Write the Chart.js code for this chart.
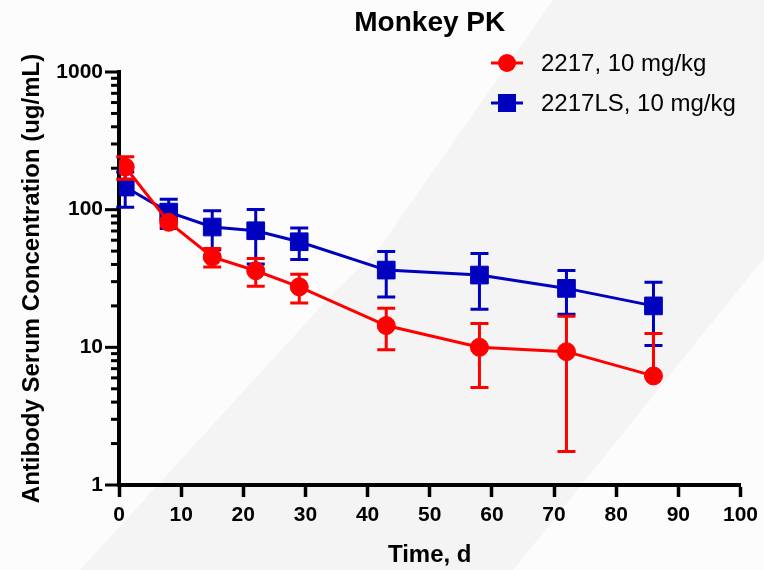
<!DOCTYPE html>
<html>
<head>
<meta charset="utf-8">
<title>Monkey PK</title>
<script src="https://cdn.jsdelivr.net/npm/chart.js@4.4.1/dist/chart.umd.min.js"></script>
<style>
	html, body { margin: 0; padding: 0; background: #fcfcfc; }
	#wrap { width: 764px; height: 570px; }
</style>
</head>
<body>
<div id="wrap"><canvas id="grafPK"></canvas></div>
<script>
/*=============== DATOS ===============*/
const timeDays = [1, 8, 15, 22, 29, 43, 58, 72, 86];
const mean2217 = [204, 81, 45.3, 36, 27.5, 14.4, 10.0, 9.3, 6.2];
const sd2217 = [38, 5, 7, 8.2, 6.5, 4.8, 4.9, 7.55, 6.4];
const mean2217LS = [146, 96, 74.8, 70.3, 58.5, 36.4, 33.5, 26.8, 20.0];
const sd2217LS = [42, 23, 23.6, 30, 15, 13.2, 14.6, 9.4, 9.7];
const yMajorTicks = [1, 10, 100, 1000];
const seriesLabels = ['2217, 10 mg/kg', '2217LS, 10 mg/kg'];

const FONT = "'Liberation Sans', Arial, sans-serif";
const RED = '#ff0000';
const BLUE = '#0000bf';

// ticks menores del eje log (2..9 de cada decada)
const yAllTicks = [];
yMajorTicks.forEach(m => {
	if (m === 1000) { yAllTicks.push(m); return; }
	for (let k = 1; k <= 9; k++) yAllTicks.push(m * k);
});

const toPoints = (xs, ys) => xs.map((t, i) => ({x: t, y: ys[i]}));
const errores = [sd2217, sd2217LS];

/*=============== PLUGINS ===============*/
const fondo = {
	id: 'fondo',
	beforeDraw(chart){
		const ctx = chart.ctx;
		ctx.save();
		ctx.fillStyle = '#fcfcfc';
		ctx.fillRect(0, 0, chart.width, chart.height);
		ctx.fillStyle = '#f4f4f4';
		ctx.beginPath();
		ctx.moveTo(553, 0);
		ctx.lineTo(764, 0);
		ctx.lineTo(764, 258);
		ctx.lineTo(513, 570);
		ctx.lineTo(80, 570);
		ctx.lineTo(327, 300);
		ctx.lineTo(380, 247);
		ctx.closePath();
		ctx.fill();
		ctx.restore();
	}
};

const barrasError = {
	id: 'barrasError',
	beforeDatasetDraw(chart, args){
		const ds = chart.data.datasets[args.index];
		const sd = errores[args.index];
		const sx = chart.scales.x, sy = chart.scales.y;
		const ctx = chart.ctx;
		ctx.save();
		ctx.strokeStyle = ds.borderColor;
		ctx.lineWidth = 3;
		ds.data.forEach((p, i) => {
			const px = sx.getPixelForValue(p.x);
			const py = sy.getPixelForValue(p.y);
			const top = sy.getPixelForValue(p.y + sd[i]);
			ctx.beginPath();
			ctx.moveTo(px, py); ctx.lineTo(px, top);
			ctx.moveTo(px - 9, top); ctx.lineTo(px + 9, top);
			if (p.y - sd[i] > 0) {
				const bot = sy.getPixelForValue(p.y - sd[i]);
				ctx.moveTo(px, py); ctx.lineTo(px, bot);
				ctx.moveTo(px - 9, bot); ctx.lineTo(px + 9, bot);
			}
			ctx.stroke();
		});
		ctx.restore();
	}
};

const ticksLog = {
	id: 'ticksLog',
	afterDraw(chart){
		const sy = chart.scales.y;
		const x0 = chart.chartArea.left;
		const ctx = chart.ctx;
		ctx.save();
		ctx.strokeStyle = '#000';
		ctx.lineWidth = 3;
		yAllTicks.forEach(v => {
			const py = sy.getPixelForValue(v);
			const len = yMajorTicks.includes(v) ? 14 : 8;
			ctx.beginPath();
			ctx.moveTo(x0 - len, py);
			ctx.lineTo(x0, py);
			ctx.stroke();
		});
		ctx.restore();
	}
};

const leyenda = {
	id: 'leyenda',
	afterDraw(chart){
		const ctx = chart.ctx;
		ctx.save();
		chart.data.datasets.forEach((ds, i) => {
			const y = 63 + i * 40;
			const cx = 507;
			ctx.strokeStyle = ds.borderColor;
			ctx.fillStyle = ds.borderColor;
			ctx.lineWidth = 3;
			ctx.beginPath();
			ctx.moveTo(cx - 16, y); ctx.lineTo(cx + 16, y);
			ctx.stroke();
			if (ds.pointStyle === 'rect') {
				ctx.fillRect(cx - 9, y - 9, 18, 18);
			} else {
				ctx.beginPath();
				ctx.arc(cx, y, 9, 0, Math.PI * 2);
				ctx.fill();
			}
			ctx.fillStyle = '#000';
			ctx.font = '24px ' + FONT;
			ctx.textBaseline = 'middle';
			ctx.textAlign = 'left';
			ctx.fillText(ds.label, 541, y + 1);
		});
		ctx.restore();
	}
};

/*=============== GRAFICA ===============*/
function cargarGraficaPK(){
	const ctx = document.getElementById('grafPK').getContext('2d');
	new Chart(ctx, {
		type: 'scatter',
		data: {
			datasets: [{
				label: seriesLabels[0],
				data: toPoints(timeDays, mean2217),
				borderColor: RED,
				backgroundColor: RED,
				pointBackgroundColor: RED,
				pointBorderColor: RED,
				pointStyle: 'circle',
				pointRadius: 9,
				pointHoverRadius: 9,
				pointBorderWidth: 1,
				borderWidth: 3,
				showLine: true
			}, {
				label: seriesLabels[1],
				data: toPoints(timeDays, mean2217LS),
				borderColor: BLUE,
				backgroundColor: BLUE,
				pointBackgroundColor: BLUE,
				pointBorderColor: BLUE,
				pointStyle: 'rect',
				pointRadius: 12.5,
				pointHoverRadius: 12.5,
				pointBorderWidth: 1,
				borderWidth: 3,
				showLine: true
			}]
		},
		options: {
			responsive: true,
			maintainAspectRatio: false,
			animation: false,
			events: [],
			layout: { padding: { top: 0, left: 0, right: 23, bottom: 0 } },
			plugins: {
				legend: { display: false },
				tooltip: { enabled: false },
				title: {
					display: true,
					text: 'Monkey PK',
					fullSize: false,
					color: '#000',
					font: { family: FONT, size: 28, weight: 'bold' },
					padding: { top: 6, bottom: 32.4 }
				}
			},
			scales: {
				x: {
					type: 'linear',
					min: 0,
					max: 100,
					afterFit: s => { s.height = 85; },
					ticks: {
						stepSize: 10,
						color: '#000',
						padding: 6,
						maxRotation: 0,
						font: { family: FONT, size: 21, weight: 'bold' }
					},
					grid: {
						display: true,
						drawOnChartArea: false,
						drawTicks: true,
						tickLength: 12,
						tickWidth: 3.5,
						tickColor: '#000'
					},
					border: { display: true, color: '#000', width: 4 },
					title: {
						display: true,
						text: 'Time, d',
						color: '#000',
						font: { family: FONT, size: 24, weight: 'bold' },
						padding: { top: 3, bottom: 0 }
					}
				},
				y: {
					type: 'logarithmic',
					min: 1,
					max: 1000,
					afterFit: s => { s.width = 119; },
					afterBuildTicks: s => { s.ticks = yAllTicks.map(v => ({value: v})); },
					ticks: {
						autoSkip: false,
						color: '#000',
						padding: 16,
						font: { family: FONT, size: 21, weight: 'bold' },
						callback: v => yMajorTicks.includes(v) ? String(v) : ''
					},
					grid: { display: false, drawTicks: false },
					border: { display: true, color: '#000', width: 4 },
					title: {
						display: true,
						text: 'Antibody Serum Concentration (ug/mL)',
						color: '#000',
						font: { family: FONT, size: 24, weight: 'bold' },
						padding: { top: 18, bottom: 0 }
					}
				}
			}
		},
		plugins: [fondo, barrasError, ticksLog, leyenda]
	});
}

cargarGraficaPK();
</script>
</body>
</html>
